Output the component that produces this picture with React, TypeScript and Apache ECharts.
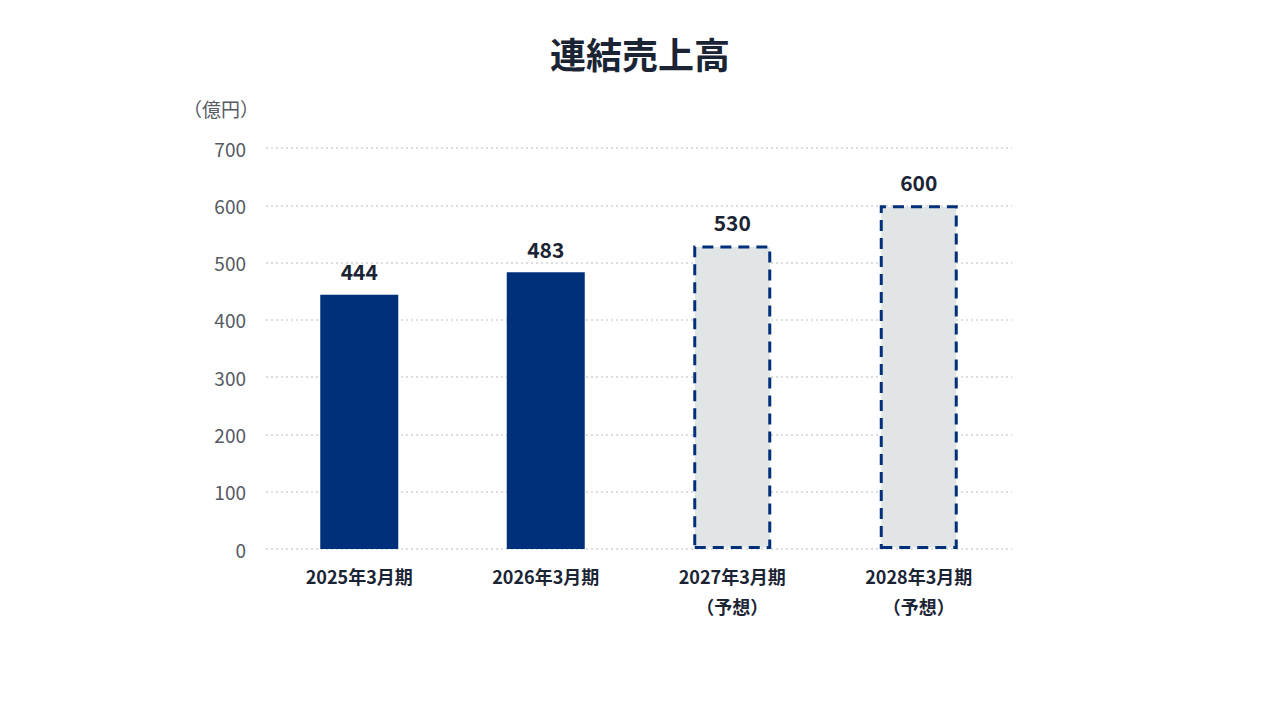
import React, { useEffect, useRef } from "react";
import * as echarts from "echarts";

const categories = ["2025年3月期", "2026年3月期", "2027年3月期\n（予想）", "2028年3月期\n（予想）"];
const values = [444, 483, 530, 600];
const forecast = [false, false, true, true];
const yTicks = { min: 0, max: 700, interval: 100 };

const NAVY = "#00307a";
const TEXT = "#1b2434";
const FONT = "'Noto Sans CJK JP', 'Noto Sans', sans-serif";

export default function App() {
  const ref = useRef<HTMLDivElement>(null);
  useEffect(() => {
    if (!ref.current) return;
    const chart = echarts.init(ref.current, undefined, { renderer: "svg" });
    chart.setOption({
      animation: false,
      textStyle: { fontFamily: FONT },
      title: {
        text: "連結売上高",
        left: "center",
        top: 22,
        textStyle: { fontSize: 36, fontWeight: "bold", color: TEXT, fontFamily: FONT },
      },
      grid: { left: 258, right: 260, top: 140, bottom: 163, containLabel: false },
      xAxis: {
        type: "category",
        data: categories,
        axisLine: { show: false },
        axisTick: { show: false },
        axisLabel: {
          color: TEXT,
          fontSize: 18,
          fontWeight: "bold",
          fontFamily: FONT,
          margin: 12,
          lineHeight: 30,
          verticalAlign: "top",
        },
      },
      yAxis: {
        type: "value",
        min: yTicks.min,
        max: yTicks.max,
        interval: yTicks.interval,
        name: "（億円）",
        nameLocation: "end",
        nameGap: 30,
        nameTextStyle: { color: "#555a63", fontSize: 19, fontFamily: FONT, align: "center", padding: [0, 0, 0, -90] },
        axisLine: { show: false },
        axisTick: { show: false },
        axisLabel: { color: "#555a63", fontSize: 19, fontFamily: FONT, margin: 20 },
        splitLine: { show: true, lineStyle: { color: "#cfd2d6", type: [2, 3], width: 1.5 } },
      },
      series: [
        {
          type: "bar",
          barWidth: 78,
          data: values.map((v, i) => ({
            value: v,
            itemStyle: forecast[i]
              ? {
                  color: "#e1e5e6",
                  borderColor: NAVY,
                  borderWidth: 3,
                  borderType: [11, 7],
                }
              : { color: NAVY },
          })),
          label: {
            show: true,
            position: "top",
            distance: 13,
            color: TEXT,
            fontSize: 21,
            fontWeight: "bold",
            fontFamily: FONT,
          },
        },
      ],
    });
    return () => chart.dispose();
  }, []);
  return <div ref={ref} style={{ width: 1264, height: 704 }} />;
}
